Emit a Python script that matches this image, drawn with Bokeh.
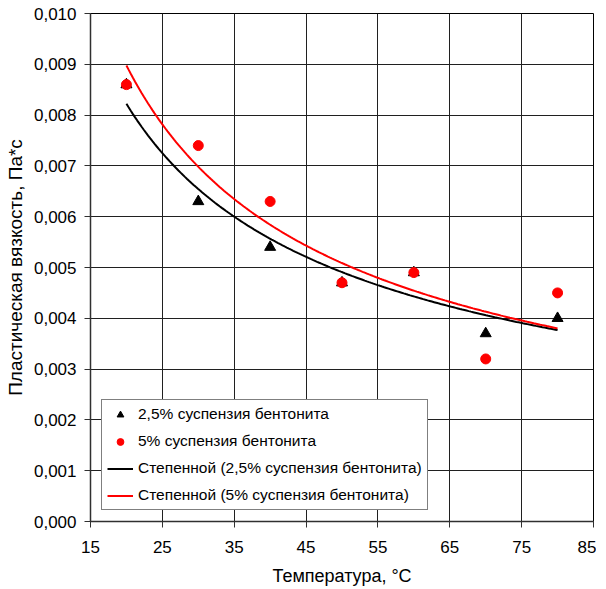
import numpy as np
from bokeh.plotting import figure
from bokeh.models import Range1d, FixedTicker, CustomJSTickFormatter, Legend, LegendItem
from bokeh.embed import file_html
from bokeh.resources import INLINE

# ---- data ----
temperature = [20, 30, 40, 50, 60, 70, 80]
visc_25 = [0.0086, 0.0063, 0.0054, 0.0047, 0.0049, 0.0037, 0.0040]
visc_5 = [0.0086, 0.0074, 0.0063, 0.0047, 0.0049, 0.0032, 0.0045]
x_ticks = [15, 25, 35, 45, 55, 65, 75, 85]
y_ticks = [0.000, 0.001, 0.002, 0.003, 0.004, 0.005, 0.006, 0.007, 0.008, 0.009, 0.010]

label_25 = "2,5% суспензия бентонита"
label_5 = "5% суспензия бентонита"
label_fit_25 = "Степенной (2,5% суспензия бентонита)"
label_fit_5 = "Степенной (5% суспензия бентонита)"

# power-law trend lines (least squares in log-log space, like a spreadsheet trendline)
def power_fit(x, y):
    b, ln_a = np.polyfit(np.log(x), np.log(y), 1)
    xs = np.linspace(min(x), max(x), 200)
    return xs, np.exp(ln_a) * xs ** b

fx25, fy25 = power_fit(temperature, visc_25)
fx5, fy5 = power_fit(temperature, visc_5)

FONT = "Liberation Sans"

p = figure(frame_width=503, frame_height=508,
           x_range=Range1d(15, 85), y_range=Range1d(0, 0.010),
           output_backend="svg", toolbar_location=None,
           min_border_left=90, min_border_top=13, min_border_right=3, min_border_bottom=50,
           background_fill_color="white", border_fill_color="white")

p.outline_line_color = "black"
p.outline_line_width = 1

xt = FixedTicker(ticks=x_ticks)
yt = FixedTicker(ticks=y_ticks)
p.xaxis.ticker = xt
p.yaxis.ticker = yt
p.xgrid.ticker = xt
p.ygrid.ticker = yt
for g in (p.xgrid, p.ygrid):
    g.grid_line_color = "#202020"
    g.grid_line_width = 1
    g.grid_line_alpha = 1

p.yaxis.formatter = CustomJSTickFormatter(code="return tick.toFixed(3).replace('.', ',');")

for ax in (p.xaxis, p.yaxis):
    ax.axis_line_color = "#303030"
    ax.axis_line_width = 1.5
    ax.major_tick_line_color = "#303030"
    ax.major_tick_in = 0
    ax.major_tick_out = 6
    ax.minor_tick_line_color = None
    ax.major_label_text_font = FONT
    ax.major_label_text_font_size = "17px"
    ax.major_label_text_color = "black"
    ax.axis_label_text_font = FONT
    ax.axis_label_text_font_style = "normal"
    ax.axis_label_text_color = "black"

p.xaxis.axis_label_text_font_size = "18px"
p.yaxis.axis_label_text_font_size = "19px"
p.xaxis.major_label_standoff = 13
p.yaxis.major_label_standoff = 8
p.xaxis.axis_label = "Температура, °C"
p.yaxis.axis_label = "Пластическая вязкость, Па*с"
p.xaxis.axis_label_standoff = 10
p.yaxis.axis_label_standoff = 5

r_tri = p.scatter(temperature, visc_25, marker="triangle", size=11,
                  fill_color="black", line_color="black")
r_cir = p.scatter(temperature, visc_5, marker="circle", size=10,
                  fill_color="#FF0000", line_color="#FF0000")
r_l25 = p.line(fx25, fy25, line_color="black", line_width=2)
r_l5 = p.line(fx5, fy5, line_color="#FF0000", line_width=2)

legend = Legend(items=[
    LegendItem(label=label_25, renderers=[r_tri]),
    LegendItem(label=label_5, renderers=[r_cir]),
    LegendItem(label=label_fit_25, renderers=[r_l25]),
    LegendItem(label=label_fit_5, renderers=[r_l5]),
], location=(11, 11))
legend.label_text_font = FONT
legend.label_text_font_size = "15.5px"
legend.label_text_color = "black"
legend.border_line_color = "black"
legend.border_line_width = 1
legend.background_fill_color = "white"
legend.background_fill_alpha = 1
legend.padding = 5
legend.spacing = 9
legend.label_height = 17
legend.glyph_height = 17
legend.glyph_width = 26
legend.label_standoff = 5
legend.margin = 0
p.add_layout(legend, "center")

open("out.html", "w").write(file_html(p, INLINE))
